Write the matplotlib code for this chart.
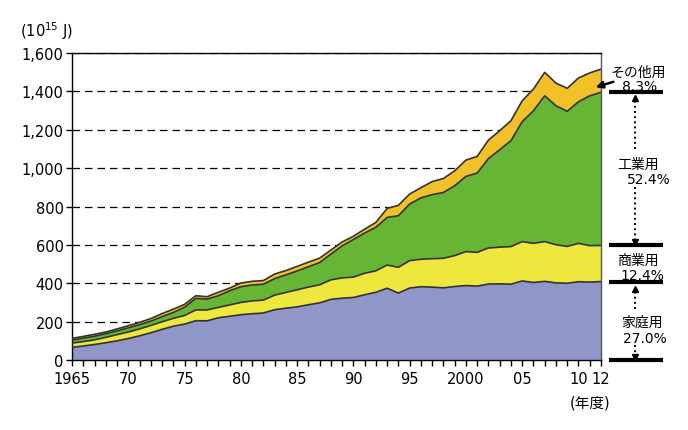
import numpy as np
import matplotlib.pyplot as plt
from matplotlib.transforms import blended_transform_factory

plt.rcParams['font.family'] = ['DejaVu Sans', 'Noto Sans CJK JP']

# Data (10^15 J)
years = list(range(1965, 2013))
household = [66, 73, 81, 90, 100, 112, 126, 142, 160, 176,
             187, 205, 204, 220, 228, 236, 241, 245, 262, 270,
             277, 288, 298, 316, 322, 326, 340, 353, 374, 349,
             375, 382, 380, 376, 383, 388, 385, 396, 397, 395,
             412, 404, 410, 402, 400, 408, 406, 409]
commercial = [22, 23, 24, 28, 32, 34, 36, 38, 39, 41,
              45, 56, 57, 54, 59, 64, 67, 67, 76, 82,
              89, 92, 94, 102, 106, 106, 112, 112, 121, 134,
              143, 143, 148, 154, 161, 177, 176, 188, 191, 196,
              205, 204, 207, 199, 192, 200, 190, 188]
industrial = [16, 18, 19, 19, 20, 22, 22, 23, 27, 31,
              43, 60, 57, 61, 74, 82, 83, 83, 86, 92,
              98, 106, 116, 134, 167, 196, 210, 227, 248, 269,
              295, 320, 334, 343, 364, 392, 413, 466, 508, 552,
              625, 691, 760, 724, 704, 738, 781, 798]
other = [9, 9, 10, 9, 10, 11, 12, 13, 16, 17,
         15, 14, 12, 18, 14, 19, 19, 19, 24, 22,
         24, 24, 23, 21, 20, 17, 20, 25, 47, 54,
         52, 53, 68, 73, 78, 85, 87, 96, 99, 104,
         109, 113, 122, 118, 120, 124, 119, 121]

colors = ['#9196C8', '#EEE83E', '#66B535', '#F2C12A']
tick_years = {1965: '1965', 1970: '70', 1975: '75', 1980: '80', 1985: '85',
              1990: '90', 1995: '95', 2000: '2000', 2005: '05', 2010: '10', 2012: '12'}

fig = plt.figure(figsize=(6.88, 4.31), dpi=100)
ax = fig.add_axes([0.1047, 0.1624, 0.7688, 0.7123])

layers = np.array([household, commercial, industrial, other], dtype=float)
ax.stackplot(years, layers, colors=colors, linewidth=0, zorder=2)
tops = np.cumsum(layers, axis=0)
for t in tops:
    ax.plot(years, t, color='#333333', lw=1.2, zorder=3)

ax.set_xlim(1965, 2012)
ax.set_ylim(0, 1600)
ax.set_yticks(range(0, 1601, 200))
ax.set_yticklabels([f'{v:,}' for v in range(0, 1601, 200)], fontsize=10.5)
ax.set_xticks(years)
ax.set_xticklabels([tick_years.get(y, '') for y in years], fontsize=10.5)
ax.tick_params(axis='both', direction='out', length=4, width=1, color='black')
ax.tick_params(axis='y', pad=2)
ax.tick_params(axis='x', pad=4)
ax.yaxis.grid(True, linestyle=(0, (6, 4)), color='black', lw=0.9)
ax.set_axisbelow(True)
for s in ax.spines.values():
    s.set_linewidth(1)
    s.set_color('black')
ax.spines['right'].set_color('#555555')

fig.text(20 / 688, 1 - 37 / 431, '(10$^{15}$ J)', fontsize=10.5, va='baseline', ha='left')
fig.text(590 / 688, 1 - 408 / 431, '(年度)', fontsize=10.5, va='baseline', ha='center')

# right-hand share annotations
tr = blended_transform_factory(ax.transAxes, ax.transData)
x0, x1 = (609 - 72) / 529, (663 - 72) / 529
xm = (635 - 72) / 529
for lvl in [tops[2][-1], tops[1][-1], tops[0][-1], 0]:
    ax.plot([x0, x1], [lvl, lvl], color='black', lw=3, transform=tr, clip_on=False,
            solid_capstyle='butt')

def ax_y(py):
    return (361 - py) / 307 * 1600

def dotted_arrow(py_from, py_to):
    ax.plot([xm, xm], [ax_y(py_from), ax_y(py_to)], color='black', lw=1.4, ls=':',
            transform=tr, clip_on=False)
    mk = '^' if py_to < py_from else 'v'
    ax.plot([xm], [ax_y(py_to)], marker=mk, color='black', ms=5, transform=tr, clip_on=False)

dotted_arrow(150, 99)
dotted_arrow(188, 243)
dotted_arrow(310, 290)
dotted_arrow(346, 358)

# (text, x px, baseline px, size)
labels = [('その他用', 611, 77, 10), ('8.3%', 622, 91, 10),
          ('工業用', 617, 169, 10), ('52.4%', 627, 184, 10),
          ('商業用', 617, 265, 10), ('12.4%', 620, 280, 10),
          ('家庭用', 621, 327, 10), ('27.0%', 623, 343, 10)]
for txt, px, py, fs in labels:
    fig.text(px / 688, 1 - py / 431, txt, fontsize=fs, ha='left', va='baseline')

ax.annotate('', xy=(593, 431 - 89), xycoords='figure pixels',
            xytext=(616, 431 - 82), textcoords='figure pixels',
            arrowprops=dict(arrowstyle='-|>', color='black', lw=1.8, mutation_scale=10))

fig.savefig('out.png', dpi=100)
